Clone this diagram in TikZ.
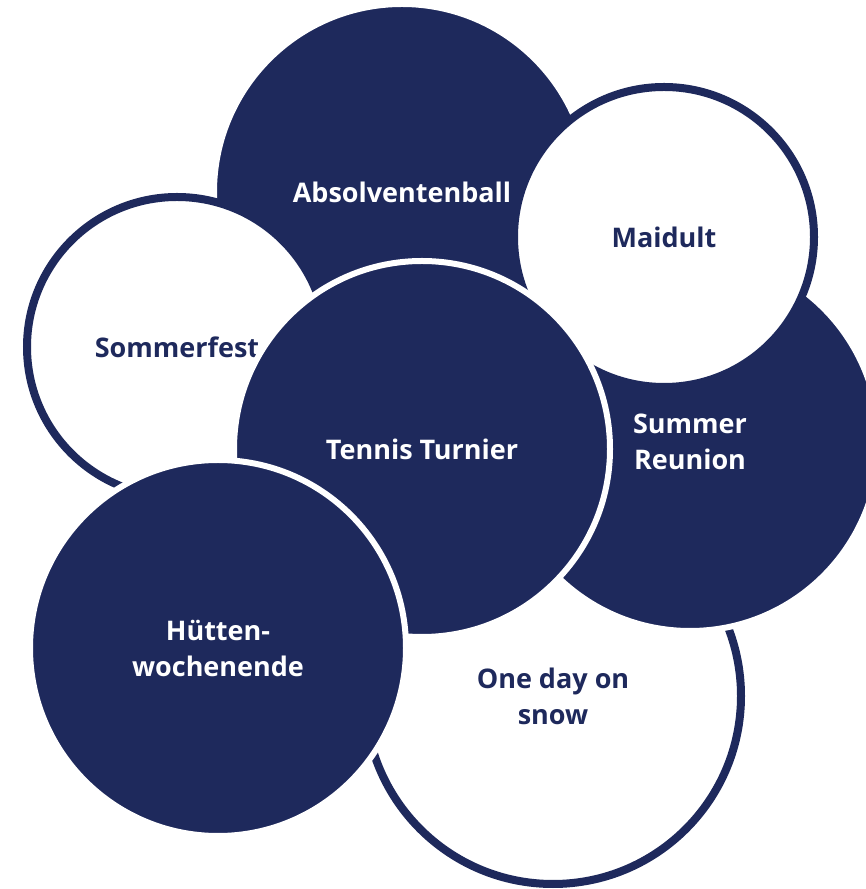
\documentclass[tikz,border=0pt]{standalone}
\usepackage{fontspec}
\setmainfont{Open Sans}
\definecolor{navy}{RGB}{30,41,92}
\begin{document}
\begin{tikzpicture}[x=1pt,y=1pt,
  lbl/.style={font=\bfseries\fontsize{27}{36}\selectfont, align=center},
  darkc/.style={circle, fill=navy, draw=white, line width=6pt, inner sep=0pt,
    minimum size=#1, text=white, lbl},
  lightc/.style={circle, fill=white, draw=navy, line width=8pt, inner sep=0pt,
    minimum size=#1, text=navy, lbl}]
\useasboundingbox (0,0) rectangle (866,889);
\clip (0,0) rectangle (866,889);
\fill[white] (0,0) rectangle (866,889);
\node[lightc=376pt] (snow) at (553,193) {One day on\\snow};
\node[darkc=376pt] (absol) at (402,697) {Absolventenball};
\node[darkc=378pt] (reunion) at (690,447) {Summer\\Reunion};
\node[lightc=300pt] (maidult) at (664,652) {Maidult};
\node[lightc=300pt] (sommer) at (177,542) {Sommerfest};
\node[darkc=376pt] (tennis) at (422,440) {Tennis Turnier};
\node[darkc=376pt] (huetten) at (218,241) {Hütten-\\wochenende};
\end{tikzpicture}
\end{document}
